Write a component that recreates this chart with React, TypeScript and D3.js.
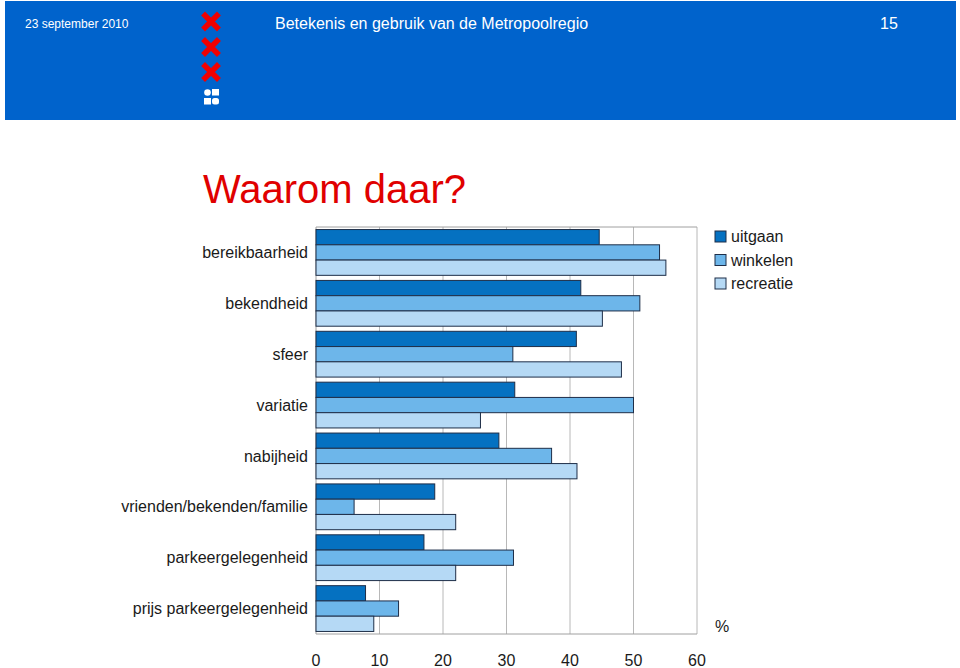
import { useEffect, useRef } from 'react'
import * as d3 from 'd3'

// chart data
const categories = [
  'bereikbaarheid',
  'bekendheid',
  'sfeer',
  'variatie',
  'nabijheid',
  'vrienden/bekenden/familie',
  'parkeergelegenheid',
  'prijs parkeergelegenheid',
]
const seriesNames = ['uitgaan', 'winkelen', 'recreatie']
const uitgaan = [44.6, 41.7, 41.0, 31.3, 28.8, 18.7, 17.0, 7.8]
const winkelen = [54.1, 51.0, 31.0, 50.0, 37.1, 6.0, 31.1, 13.0]
const recreatie = [55.1, 45.1, 48.1, 25.9, 41.1, 22.0, 22.0, 9.1]
const xTicks = [0, 10, 20, 30, 40, 50, 60]
const seriesColors = ['#0571C1', '#6DB6EA', '#B5D9F5']

export default function App() {
  const svgRef = useRef<SVGSVGElement>(null)

  useEffect(() => {
    if (!svgRef.current) return
    const width = 960
    const height = 668
    const font = 'Liberation Sans, Arial, sans-serif'
    const svg = d3.select(svgRef.current)
    svg.selectAll('*').remove()
    svg.attr('width', width).attr('height', height)

    svg.append('rect').attr('width', width).attr('height', height).attr('fill', '#fff')

    // header band
    svg.append('rect')
      .attr('x', 5).attr('y', 1).attr('width', 951).attr('height', 119)
      .attr('fill', '#0063CC')
    svg.append('text')
      .attr('x', 25).attr('y', 28)
      .style('font-family', font).style('font-size', '12px')
      .attr('fill', '#fff')
      .text('23 september 2010')
    svg.append('text')
      .attr('x', 275).attr('y', 29)
      .style('font-family', font).style('font-size', '16px')
      .attr('fill', '#fff')
      .text('Betekenis en gebruik van de Metropoolregio')
    svg.append('text')
      .attr('x', 880).attr('y', 29)
      .style('font-family', font).style('font-size', '16px')
      .attr('fill', '#fff')
      .text('15')

    // city logo: three crosses and the small squares
    const logo = svg.append('g')
    ;[21.5, 47, 72].forEach((cy) => {
      const s = 6
      logo.append('path')
        .attr('d', `M${211 - s},${cy - s}L${211 + s},${cy + s}M${211 + s},${cy - s}L${211 - s},${cy + s}`)
        .attr('stroke', '#F00000').attr('stroke-width', 5.5).attr('stroke-linecap', 'square')
    })
    logo.append('circle').attr('cx', 207.5).attr('cy', 92.5).attr('r', 3.3).attr('fill', '#fff')
    logo.append('rect').attr('x', 212).attr('y', 89).attr('width', 7).attr('height', 6.5).attr('fill', '#fff')
    logo.append('rect').attr('x', 204).attr('y', 98).attr('width', 7).attr('height', 6.5).attr('fill', '#fff')
    logo.append('rect').attr('x', 212).attr('y', 98).attr('width', 7).attr('height', 6.5).attr('fill', '#fff').attr('rx', 2.5)

    // title
    svg.append('text')
      .attr('x', 203).attr('y', 203)
      .style('font-family', font).style('font-size', '40px')
      .attr('fill', '#E00000')
      .text('Waarom daar?')

    // plot
    const marginLeft = 316
    const plotRight = 697
    const plotTop = 227
    const plotBottom = 634

    const x = d3.scaleLinear().domain([0, 60]).range([marginLeft, plotRight])
    const y = d3.scaleBand()
      .domain(categories)
      .range([plotTop, plotBottom])
      .paddingInner(0.1)
      .paddingOuter(0.05)
    const inner = d3.scaleBand()
      .domain(seriesNames)
      .range([0, y.bandwidth()])

    const data = categories.map((c, i) => ({
      key: c,
      values: [uitgaan[i], winkelen[i], recreatie[i]],
    }))

    // gridlines
    svg.append('g')
      .selectAll('line')
      .data(xTicks.slice(1))
      .join('line')
      .attr('x1', (d) => x(d)).attr('x2', (d) => x(d))
      .attr('y1', plotTop).attr('y2', plotBottom)
      .attr('stroke', '#B8B8B8').attr('stroke-width', 1)
    svg.append('path')
      .attr('d', `M${marginLeft},${plotTop}H${plotRight}M${marginLeft},${plotTop}V${plotBottom}H${plotRight}`)
      .attr('fill', 'none').attr('stroke', '#A0A0A0').attr('stroke-width', 1)

    // bars
    const groups = svg.append('g')
      .selectAll('g')
      .data(data)
      .join('g')
      .attr('transform', (d) => `translate(0,${y(d.key)})`)
    groups.selectAll('rect')
      .data((d) => d.values.map((v, j) => ({ name: seriesNames[j], value: v, j })))
      .join('rect')
      .attr('x', x(0))
      .attr('y', (d) => inner(d.name)!)
      .attr('width', (d) => x(d.value) - x(0))
      .attr('height', inner.bandwidth())
      .attr('fill', (d) => seriesColors[d.j])
      .attr('stroke', '#1E2E48')
      .attr('stroke-width', 1)

    // category labels
    svg.append('g')
      .attr('text-anchor', 'end')
      .selectAll('text')
      .data(categories)
      .join('text')
      .attr('x', 308)
      .attr('y', (d) => y(d)! + y.bandwidth() / 2)
      .attr('dy', '0.35em')
      .style('font-family', font).style('font-size', '16px')
      .attr('fill', '#1a1a1a')
      .text((d) => d)

    // x tick labels
    svg.append('g')
      .attr('text-anchor', 'middle')
      .selectAll('text')
      .data(xTicks)
      .join('text')
      .attr('x', (d) => x(d))
      .attr('y', 666)
      .style('font-family', font).style('font-size', '16px')
      .attr('fill', '#1a1a1a')
      .text((d) => d)

    svg.append('text')
      .attr('x', 715).attr('y', 632)
      .style('font-family', font).style('font-size', '16px')
      .attr('fill', '#1a1a1a')
      .text('%')

    // legend
    const legend = svg.append('g')
      .selectAll('g')
      .data(seriesNames)
      .join('g')
      .attr('transform', (d, i) => `translate(715,${231 + i * 23.5})`)
    legend.append('rect')
      .attr('width', 11).attr('height', 11)
      .attr('fill', (d, i) => seriesColors[i])
      .attr('stroke', '#1E2E48').attr('stroke-width', 1)
    legend.append('text')
      .attr('x', 16).attr('y', 5.5).attr('dy', '0.35em')
      .style('font-family', font).style('font-size', '16px')
      .attr('fill', '#1a1a1a')
      .text((d) => d)
  }, [])

  return (
    <div style={{ position: 'absolute', left: 0, top: 0 }}>
      <svg ref={svgRef} style={{ display: 'block' }}></svg>
    </div>
  )
}
